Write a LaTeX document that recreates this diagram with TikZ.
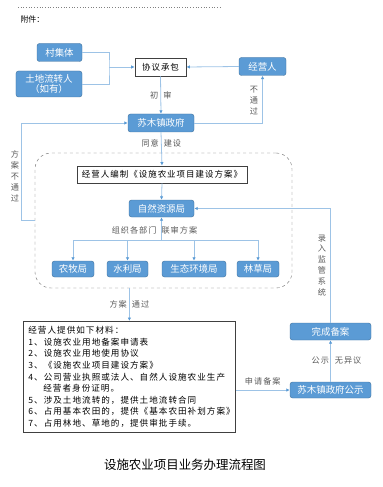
\documentclass[tikz,border=0pt]{standalone}
\usepackage{fontspec}
\setmainfont{Noto Sans CJK SC}
\newfontfamily\spaced[LetterSpace=12]{Noto Sans CJK SC}
\usetikzlibrary{arrows.meta}
\definecolor{boxblue}{HTML}{5B9BD5}
\definecolor{boxedge}{HTML}{41719C}
\definecolor{lineblue}{HTML}{9DC3E6}
\definecolor{tipblue}{HTML}{5B9BD5}
\definecolor{labelgray}{HTML}{595959}
\begin{document}
\begin{tikzpicture}[x=1bp, y=-1bp,
    bluebox/.style={draw=boxedge, fill=boxblue, rounded corners=2.5bp, text=white,
      font=\fontsize{9.5}{11}\selectfont, inner sep=0pt, minimum height=18bp},
    whitebox/.style={draw=black!75, line width=0.8pt, fill=white,
      font=\fontsize{8.5}{10}\spaced, inner sep=0pt, minimum height=18bp},
    link/.style={draw=lineblue, line width=0.8pt},
    arr/.style={link, -{Latex[length=3.5bp, width=3.5bp, color=tipblue]}},
    lbl/.style={font=\fontsize{8.2}{10}\spaced, text=labelgray, inner sep=1bp},
    vlbl/.style={font=\fontsize{8.2}{11}\spaced, text=labelgray, align=center, inner sep=0pt}]
  \useasboundingbox (0,0) rectangle (382,487);
  % header
  \draw[gray, dotted, line width=0.7pt] (18,7) -- (220,7);
  \node[anchor=west, font=\fontsize{8}{10}\selectfont] (fujian) at (17,19) {附件：};
  % top part
  \node[bluebox, minimum width=45bp] (cun) at (59.5,52.5) {村集体};
  \node[bluebox, minimum width=66bp, minimum height=26bp, align=center,
    font=\fontsize{9.5}{10.5}\selectfont] (tudi) at (49,84) {土地流转人\\（如有）};
  \node[whitebox, minimum width=51bp] (xieyi) at (160.5,67) {协议承包};
  \node[bluebox, minimum width=47bp] (jingying) at (262.5,66.5) {经营人};
  \node[bluebox, minimum width=66bp] (sumu) at (161,123) {苏木镇政府};
  % joint review area
  \node[draw=black!60, dashed, rounded corners=16bp, minimum width=257bp,
    minimum height=135bp] (shenpi) at (163.5,220.5) {};
  \node[whitebox, minimum width=170bp, minimum height=17bp] (bianzhi) at (162,174.5)
    {经营人编制《设施农业项目建设方案》};
  \node[bluebox, minimum width=65bp, minimum height=17bp] (ziran) at (161.5,208.5) {自然资源局};
  \foreach \n/\x/\w/\t in {nongmu/73/42/农牧局, shuili/127.5/41/水利局,
      shengtai/194/64/生态环境局, lincao/258/42/林草局} {
    \node[bluebox, minimum width=\w bp, minimum height=16bp] (\n) at (\x,269) {\t};
  }
  % materials
  \node[draw=black!75, line width=0.8pt, anchor=north west, minimum height=111bp,
    text width=202bp, inner xsep=5bp, inner ysep=0pt, align=left,
    font=\fontsize{8.6}{11.6}\spaced] (cailiao) at (23,321)
    {经营人提供如下材料：\\
     1、设施农业用地备案申请表\\
     2、设施农业用地使用协议\\
     3、《设施农业项目建设方案》\\
     4、公司营业执照或法人、自然人设施农业生产\\
     \hspace*{15bp}经营者身份证明。\\
     5、涉及土地流转的，提供土地流转合同\\
     6、占用基本农田的，提供《基本农田补划方案》\\
     7、占用林地、草地的，提供审批手续。};
  \node[bluebox, minimum width=81bp, minimum height=17bp] (wancheng) at (330.5,331.5) {完成备案};
  \node[bluebox, minimum width=81bp, minimum height=16bp] (gongshi) at (330.5,390) {苏木镇政府公示};
  \node[font=\fontsize{12.5}{14}\selectfont] (title) at (185,465) {设施农业项目业务办理流程图};
  % connectors
  \coordinate (hub) at (109,67);
  \draw[link] (cun.east) -| (hub) |- (tudi.east);
  \draw[arr] (hub) -- (xieyi.west);
  \draw[arr] (jingying.west) -- (xieyi.east);
  \draw[arr] (xieyi.south) -- node[lbl] {初\hspace{5bp}审} (sumu.north);
  \draw[arr] (sumu.east) -| (jingying.south);
  \node[vlbl] (butong) at (254,101) {不\\通\\过};
  \draw[arr] (shenpi.west) -- ++(-13,0) |- (sumu.west);
  \node[vlbl] (fanganbutong) at (15,176.5) {方\\案\\不\\通\\过};
  \draw[arr] (sumu.south) -- node[lbl, pos=0.32] {同意\hspace{5bp}建设} (bianzhi.north);
  \draw[arr] (bianzhi.south) -- (ziran.north);
  \coordinate (bus) at (161.5,240);
  \draw[link] (nongmu.north |- bus) -- (lincao.north |- bus);
  \foreach \n in {nongmu, shuili, shengtai, lincao} {
    \draw[arr] (\n.north |- bus) -- (\n.north);
  }
  \draw[arr] (bus) -- node[lbl, pos=0.4, xshift=-7bp] {组织各部门\hspace{5bp}联审方案} (ziran.south);
  \draw[arr] (cailiao.north |- shenpi.south) -- node[lbl] {方案\hspace{5bp}通过} (cailiao.north);
  \draw[arr] (cailiao.east |- gongshi.west) -- node[lbl, above=3bp] {申请备案} (gongshi.west);
  \draw[arr] (gongshi.north) -- node[lbl, xshift=6bp] {公示\hspace{6bp}无异议} (wancheng.south);
  \draw[arr] (wancheng.north) |- (ziran.east);
  \node[vlbl] (luru) at (322,265.5) {录\\入\\监\\管\\系\\统};
\end{tikzpicture}
\end{document}
